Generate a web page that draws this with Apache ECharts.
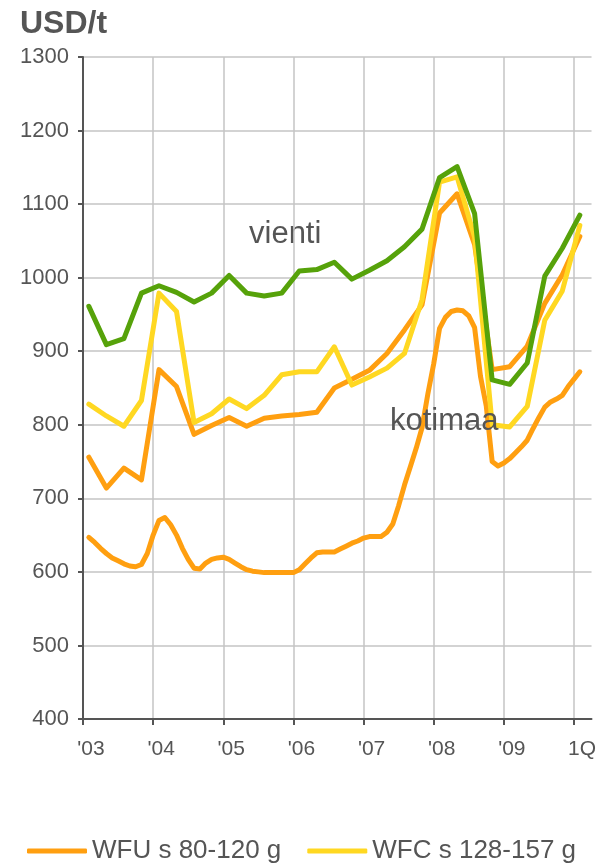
<!DOCTYPE html>
<html>
<head>
<meta charset="utf-8">
<script src="https://cdn.jsdelivr.net/npm/echarts@6/dist/echarts.min.js"></script>
<style>
  html, body { margin: 0; padding: 0; background: #fff; }
  #main { width: 599px; height: 864px; }
</style>
</head>
<body>
<div id="main"></div>
<script>
// year tick labels, one every 12 months starting Jan 2003
var yearLabels = ["'03", "'04", "'05", "'06", "'07", "'08", "'09", "1Q"];
var monthCount = 88;

// quarterly series (first point Feb 2003, then every 3 months)
var vientiGreen = [961, 909, 917, 979, 989, 980, 967, 979, 1003, 979, 975, 979, 1009,
  1011, 1021, 998, 1010, 1023, 1042, 1066, 1136, 1151, 1087, 861, 855, 884, 1002, 1040, 1085];
var wfuVienti = [756, 714, 741, 725, 875, 852, 787, 799, 810, 798, 809, 812, 814,
  817, 850, 862, 874, 897, 929, 963, 1088, 1114, 1045, 875, 879, 907, 965, 1004, 1056];
var wfcVienti = [828, 812, 798, 833, 979, 954, 803, 815, 835, 822, 840, 868, 872,
  872, 906, 854, 865, 877, 897, 970, 1130, 1137, 1055, 800, 797, 825, 942, 982, 1071];

// monthly series (Feb 2003 ... Feb 2010)
var wfuKotimaa = [647, 640, 632, 625, 619, 615, 611, 608, 607, 610, 625, 650,
  670, 674, 664, 650, 632, 617, 605, 604, 612, 617, 619, 620,
  617, 612, 607, 603, 601, 600, 599, 599, 599, 599, 599, 599,
  603, 611, 619, 626, 627, 627, 627, 631, 635, 639, 642, 646,
  648, 648, 648, 654, 665, 690, 718, 743, 768, 796, 842, 883,
  931, 946, 954, 956, 955, 948, 932, 866, 825, 750, 744, 748,
  754, 762, 770, 779, 795, 810, 824, 831, 835, 840, 852, 862, 872];

var months = [];
for (var i = 0; i < monthCount; i++) {
  months.push(i % 12 === 0 ? yearLabels[i / 12] : '');
}
function quarterly(vals) { return vals.map(function (v, k) { return [1 + 3 * k, v]; }); }
function monthly(vals) { return vals.map(function (v, k) { return [1 + k, v]; }); }

var ORANGE = '#ff9f10', YELLOW = '#ffd822', GREEN = '#56a20a';
var FONT = 'Liberation Sans, Arial, sans-serif';
var yearOnly = function (idx) { return idx % 12 === 0; };

var chart = echarts.init(document.getElementById('main'));

function line(name, color, data) {
  return {
    type: 'line', name: name, color: color, data: data,
    showSymbol: false, symbol: 'none',
    lineStyle: { width: 5, color: color, cap: 'round', join: 'round' }
  };
}

chart.setOption({
  animation: false,
  textStyle: { fontFamily: FONT },
  title: {
    text: 'USD/t', left: 15, top: 3,
    textStyle: { fontSize: 32, fontWeight: 'bold', color: '#555', fontFamily: FONT }
  },
  grid: { left: 83, right: 3, top: 57, bottom: 145 },
  legend: {
    data: ['WFU s 80-120 g', 'WFC s 128-157 g'],
    left: 22, top: 833,
    itemWidth: 60, itemHeight: 5, itemGap: 26,
    icon: 'roundRect',
    textStyle: { fontSize: 26, color: '#555' }
  },
  xAxis: {
    type: 'category', data: months, boundaryGap: false,
    axisLine: { lineStyle: { color: '#555', width: 2 } },
    axisTick: { show: true, length: 6, interval: yearOnly, lineStyle: { color: '#555', width: 2 } },
    axisLabel: { interval: yearOnly, fontSize: 21, color: '#555', margin: 20, padding: [0, 0, 0, 16] },
    splitLine: { show: true, interval: yearOnly, lineStyle: { color: '#c4c4c4', width: 1.5 } }
  },
  yAxis: {
    type: 'value', min: 400, max: 1300, interval: 100,
    axisLine: { show: true, lineStyle: { color: '#555', width: 2 } },
    axisTick: { show: true, length: 5, lineStyle: { color: '#555', width: 2 } },
    axisLabel: { fontSize: 22, color: '#555', margin: 14, formatter: function (v) { return String(v); } },
    splitLine: { lineStyle: { color: '#c4c4c4', width: 1.5 } }
  },
  graphic: [
    { type: 'text', left: 249, top: 219, style: { text: 'vienti', fontSize: 31, fill: '#555', fontFamily: FONT } },
    { type: 'text', left: 390, top: 406, z: 100, style: { text: 'kotimaa', fontSize: 31, fill: '#555', fontFamily: FONT } }
  ],
  series: [
    line('WFU s 80-120 g', ORANGE, monthly(wfuKotimaa)),
    line('WFU s 80-120 g', ORANGE, quarterly(wfuVienti)),
    line('WFC s 128-157 g', YELLOW, quarterly(wfcVienti)),
    line('vienti', GREEN, quarterly(vientiGreen))
  ]
});
</script>
</body>
</html>
